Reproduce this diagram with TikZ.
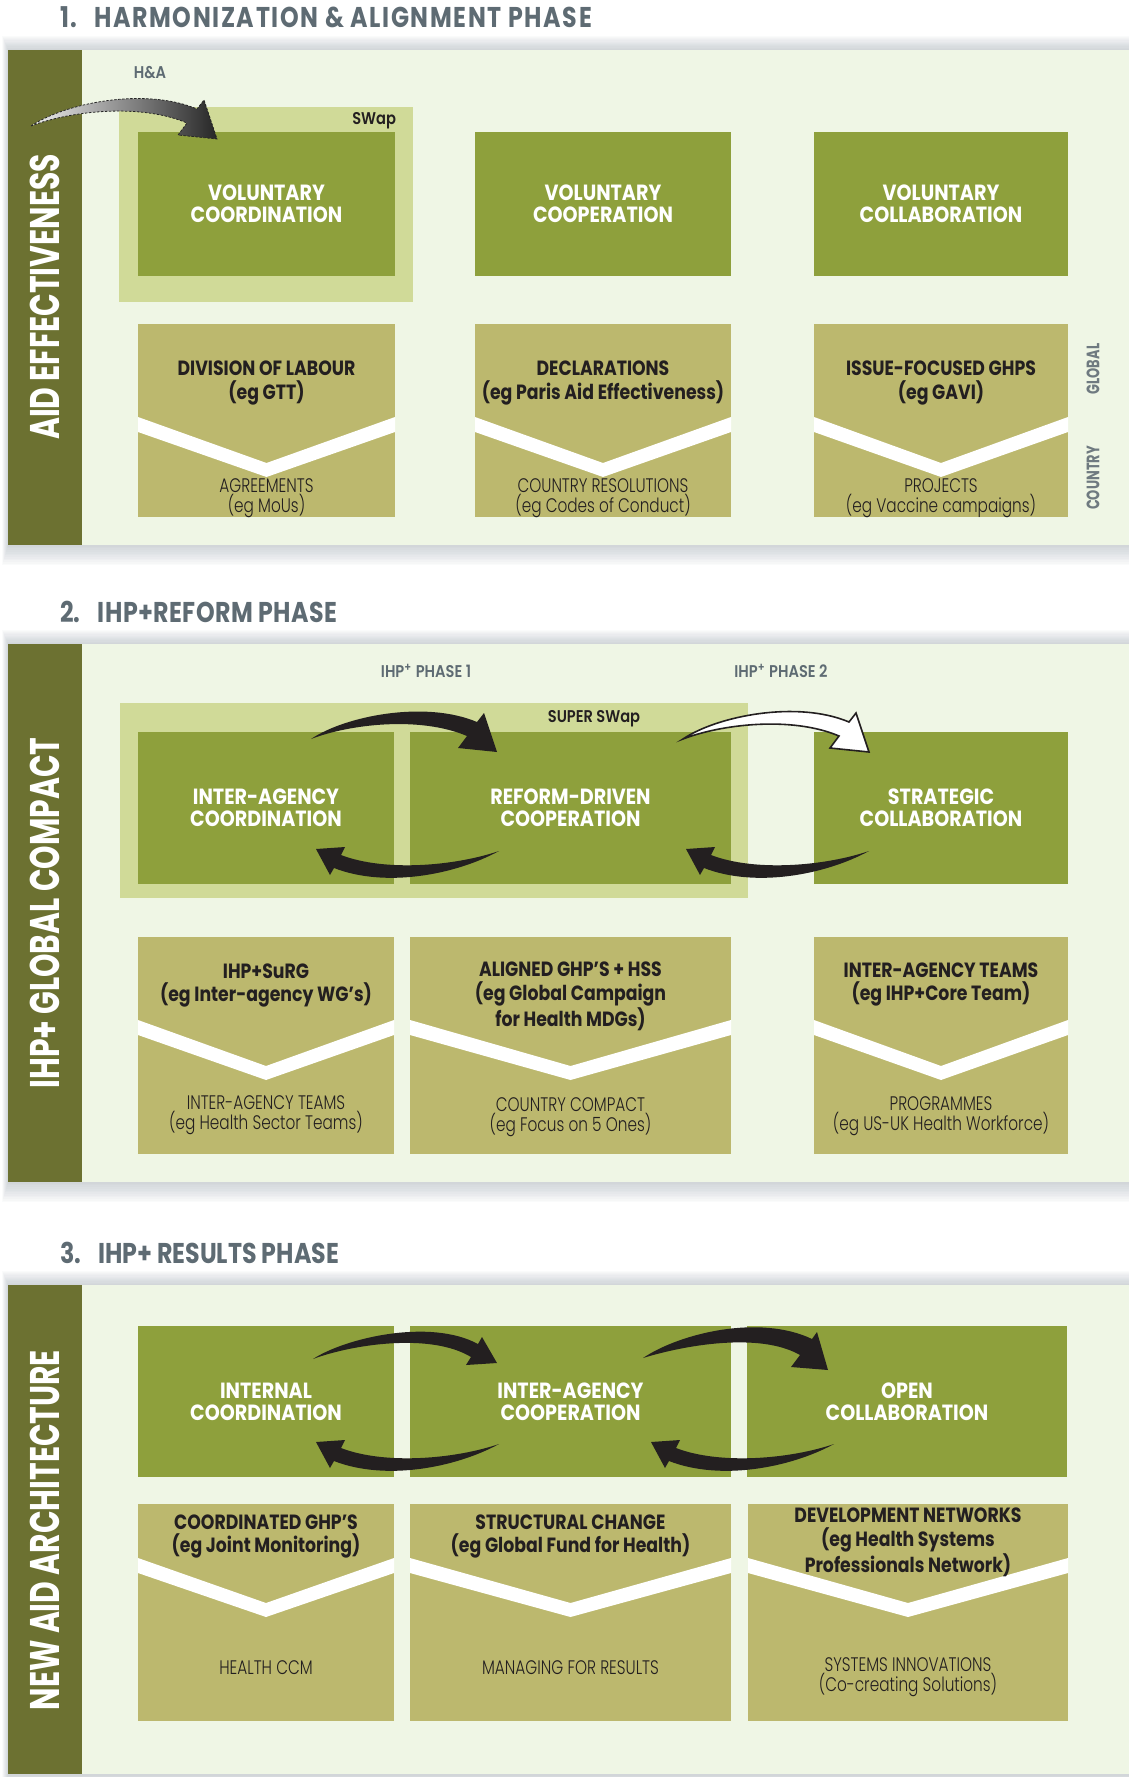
\documentclass[tikz,border=0pt]{standalone}
\usepackage{fontspec}
\setmainfont{Poppins}
\newfontfamily\headfont{Poppins Bold}[FakeStretch=0.83]
\newfontfamily\bandfont{Poppins Bold}[FakeStretch=0.72]
\newfontfamily\labelfont{Poppins Bold}[FakeStretch=0.87]
\newfontfamily\tagfont{Poppins SemiBold}[FakeStretch=0.86]
\newfontfamily\tanboldfont{Poppins Bold}[FakeStretch=0.84]
\newfontfamily\tanlightfont{Poppins Light}[FakeStretch=0.78]
\usetikzlibrary{calc,fit}

\definecolor{panelbg}{HTML}{EFF6E5}
\definecolor{bandc}{HTML}{6C7131}
\definecolor{boxg}{HTML}{8EA03C}
\definecolor{swapc}{HTML}{D0DA98}
\definecolor{tanc}{HTML}{BCB86E}
\definecolor{headc}{HTML}{5E6B73}
\definecolor{sidec}{HTML}{6F7A80}
\definecolor{inkc}{HTML}{231F20}
\definecolor{shadowc}{HTML}{7F8C99}

\tikzset{
  every node/.style={inner sep=0pt, outer sep=0pt},
  greenbox/.style={fill=boxg, draw=none, inner sep=0pt},
  tanbox/.style={fill=tanc, draw=none, inner sep=0pt},
  swapzone/.style={fill=swapc, draw=none, inner sep=0pt},
  heading/.style={anchor=west, text=headc, font=\headfont\fontsize{14.3}{16}\selectfont},
  bandtext/.style={rotate=90, text=white, font=\bandfont\fontsize{20.7}{22}\selectfont},
  boxtext/.style={text=white, align=center, font=\labelfont\fontsize{11}{11}\selectfont},
  globaltext/.style={text=inkc, align=center, font=\tanboldfont\fontsize{10.3}{11.75}\selectfont},
  countrytext/.style={text=inkc, align=center, font=\tanlightfont\fontsize{9.8}{9.9}\selectfont},
  smalltag/.style={text=headc, font=\tagfont\fontsize{8.5}{9}\selectfont},
  darktag/.style={text=inkc, font=\tagfont\fontsize{8.5}{9}\selectfont},
  sidetag/.style={rotate=90, text=sidec, font=\bandfont\fontsize{9}{9}\selectfont},
  toparrow/.pic={\path[pic actions] (0,0) .. controls (34,-23) and (114,-39) .. (166,-17)
     -- (173,-26) -- (186,13) -- (147,9) -- (156,-3) .. controls (109,-23) and (39,-15) .. (0,0) -- cycle;},
  toparrowflat/.pic={\path[pic actions] (0,0) .. controls (32,-21) and (117,-41) .. (165,-15)
     -- (169,-22) -- (184,4) -- (153,6) -- (158,-2) .. controls (117,-27) and (37,-14) .. (0,0) -- cycle;},
  toparrowbig/.pic={\path[pic actions] (0,0) .. controls (37,-25) and (117,-44) .. (169,-19)
     -- (174,-26) -- (185,12) -- (148,9) -- (157,-3) .. controls (117,-26) and (42,-13) .. (0,0) -- cycle;},
  botarrow/.pic={\path[pic actions] (0,0) .. controls (-44,24) and (-114,37) .. (-165,17)
     -- (-169,24) -- (-183,-2) -- (-154,-4) -- (-158,4) .. controls (-114,21) and (-44,15) .. (0,0) -- cycle;},
}

% soft shadow around a panel spanning rows #1..#2
\newcommand\panelshadow[2]{%
  \foreach \i in {1,...,12}{\fill[shadowc,opacity=0.03] (8-\i*0.5,#1-\i*1.2) rectangle (1135,#2+\i*1.7);}}
% box helpers
\newcommand\gbox[3]{\node[greenbox, fit={#2 #3}] (#1) {};}
\newcommand\tbox[3]{\node[tanbox, fit={#2 #3}] (#1) {};}
% white V band across a tan box: #2 offset of the band from the top, #3 depth of the V
\newcommand\chevron[3]{%
  \fill[white] ($(#1.north west)+(0,#2)$) -- ($(#1.north)+(0,#2+#3)$) -- ($(#1.north east)+(0,#2)$)
    -- ($(#1.north east)+(0,#2+15)$) -- ($(#1.north)+(0,#2+#3+14)$) -- ($(#1.north west)+(0,#2+15)$) -- cycle;}

\begin{document}
\begin{tikzpicture}[x=0.5pt,y=-0.5pt]
\useasboundingbox (0,0) rectangle (1129,1777);
\fill[white] (0,0) rectangle (1129,1777);

% ---------- headings ----------
\node[heading] (t1) at (60,17) {\addfontfeature{LetterSpace=5.6}1.\hspace{0.6em}HARMONIZATION \& ALIGNMENT PHASE};
\node[heading] (t2) at (60,612) {\addfontfeature{LetterSpace=1.5}2.\hspace{0.6em}IHP+REFORM PHASE};
\node[heading] (t3) at (60,1253) {3.\hspace{0.6em}IHP+ RESULTS PHASE};

% ---------- panel 1 ----------
\panelshadow{50}{545}
\fill[panelbg] (8,50) rectangle (1129,545);
\fill[bandc] (8,50) rectangle (82,545);
\node[bandtext] (band1) at (45,297) {AID EFFECTIVENESS};

\node[swapzone, fit={(119,107) (413,302)}] (swap1) {};
\node[darktag, anchor=east] (swaptag) at (396,121) {SWap};
\node[smalltag] (hatag) at (150,73) {H\&A};

\gbox{vcoord}{(138,132)}{(395,276)}
\gbox{vcoop}{(475,132)}{(731,276)}
\gbox{vcoll}{(814,132)}{(1068,276)}
\node[boxtext] (vcoordt) at (vcoord) {VOLUNTARY\\COORDINATION};
\node[boxtext] (vcoopt) at (vcoop) {VOLUNTARY\\COOPERATION};
\node[boxtext] (vcollt) at (vcoll) {VOLUNTARY\\COLLABORATION};

\tbox{dol}{(138,324)}{(395,517)}
\tbox{decl}{(475,324)}{(731,517)}
\tbox{ghps}{(814,324)}{(1068,517)}
\chevron{dol}{93}{46}
\chevron{decl}{93}{46}
\chevron{ghps}{93}{46}
\node[globaltext] (dolg) at (266.5,383) {DIVISION OF LABOUR\\(eg GTT)};
\node[globaltext] (declg) at (603,383) {DECLARATIONS\\(eg Paris Aid Effectiveness)};
\node[globaltext] (ghpsg) at (941,383) {ISSUE-FOCUSED GHPS\\(eg GAVI)};
\node[countrytext] (dolc) at (266.5,498) {AGREEMENTS\\(eg MoUs)};
\node[countrytext] (declc) at (603,498) {COUNTRY RESOLUTIONS\\(eg Codes of Conduct)};
\node[countrytext] (ghpsc) at (941,498) {PROJECTS\\(eg Vaccine campaigns)};
\node[sidetag] (gl) at (1093,369) {GLOBAL};
\node[sidetag] (co) at (1093,478) {COUNTRY};

\coordinate (ha0) at (31,126);
\pic[left color=black!6, right color=black!85, draw=black!85, dash pattern=on 1.2pt off 0.8pt, line width=0.4pt] at (ha0) {toparrow};

% ---------- panel 2 ----------
\panelshadow{644}{1182}
\fill[panelbg] (8,644) rectangle (1129,1182);
\fill[bandc] (8,644) rectangle (82,1182);
\node[bandtext] (band2) at (45,913) {IHP+ GLOBAL COMPACT};

\node[smalltag] (ph1) at (426,671) {IHP\textsuperscript{+} PHASE 1};
\node[smalltag] (ph2) at (781,671) {IHP\textsuperscript{+} PHASE 2};
\node[swapzone, fit={(120,703) (748,898)}] (swap2) {};
\node[darktag] (superswap) at (594,719) {SUPER SWap};

\gbox{iacoord}{(138,732)}{(394,884)}
\gbox{rdcoop}{(410,732)}{(731,884)}
\gbox{stcoll}{(814,732)}{(1068,884)}
\node[boxtext] (iacoordt) at (iacoord) {INTER-AGENCY\\COORDINATION};
\node[boxtext] (rdcoopt) at (rdcoop) {REFORM-DRIVEN\\COOPERATION};
\node[boxtext] (stcollt) at (stcoll) {STRATEGIC\\COLLABORATION};

\tbox{surg}{(138,937)}{(394,1154)}
\tbox{aligned}{(410,937)}{(731,1154)}
\tbox{iateams}{(814,937)}{(1068,1154)}
\chevron{surg}{83}{46}
\chevron{aligned}{83}{46}
\chevron{iateams}{83}{46}
\node[globaltext] (surgg) at (266,985.5) {IHP+SuRG\\(eg Inter-agency WG’s)};
\node[globaltext] (alignedg) at (570.5,996.5) {ALIGNED GHP’S + HSS\\(eg Global Campaign\\for Health MDGs)};
\node[globaltext] (iateamsg) at (941,984.5) {INTER-AGENCY TEAMS\\(eg IHP+Core Team)};
\node[countrytext] (surgc) at (266,1115) {INTER-AGENCY TEAMS\\(eg Health Sector Teams)};
\node[countrytext] (alignedc) at (570.5,1117.5) {COUNTRY COMPACT\\(eg Focus on 5 Ones)};
\node[countrytext] (iateamsc) at (941,1116) {PROGRAMMES\\(eg US-UK Health Workforce)};

\coordinate (r1) at (311,739);
\coordinate (r2) at (499,851);
\coordinate (r3) at (683,739);
\coordinate (r4) at (869,851);
\pic[fill=inkc] at (r1) {toparrow};
\pic[fill=inkc] at (r2) {botarrow};
\pic[fill=white, draw=inkc, line width=0.8pt] at (r3) {toparrow};
\pic[fill=inkc] at (r4) {botarrow};

% ---------- panel 3 ----------
\panelshadow{1285}{1774}
\fill[panelbg] (8,1285) rectangle (1129,1774);
\fill[bandc] (8,1285) rectangle (82,1774);
\node[bandtext] (band3) at (45,1530) {NEW AID ARCHITECTURE};

\gbox{incoord}{(138,1326)}{(394,1477)}
\gbox{iacoop}{(410,1326)}{(731,1477)}
\gbox{opcoll}{(747,1326)}{(1067,1477)}
\node[boxtext] (incoordt) at (incoord) {INTERNAL\\COORDINATION};
\node[boxtext] (iacoopt) at (iacoop) {INTER-AGENCY\\COOPERATION};
\node[boxtext] (opcollt) at (opcoll) {OPEN\\COLLABORATION};

\tbox{cghp}{(138,1504)}{(394,1721)}
\tbox{struct}{(410,1504)}{(731,1721)}
\tbox{devnet}{(748,1504)}{(1068,1721)}
\chevron{cghp}{54}{45}
\chevron{struct}{54}{45}
\chevron{devnet}{54}{45}
\node[globaltext] (cghpg) at (266,1536.5) {COORDINATED GHP’S\\(eg Joint Monitoring)};
\node[globaltext] (structg) at (570.5,1536.5) {STRUCTURAL CHANGE\\(eg Global Fund for Health)};
\node[globaltext] (devnetg) at (908,1542.5) {DEVELOPMENT NETWORKS\\(eg Health Systems\\Professionals Network)};
\node[countrytext] (cghpc) at (266,1668) {HEALTH CCM};
\node[countrytext] (structc) at (570.5,1668) {MANAGING FOR RESULTS};
\node[countrytext] (devnetc) at (908,1677.5) {SYSTEMS INNOVATIONS\\(Co-creating Solutions)};

\coordinate (n1) at (313,1359);
\coordinate (n2) at (499,1444);
\coordinate (n3) at (643,1358);
\coordinate (n4) at (834,1444);
\pic[fill=inkc] at (n1) {toparrowflat};
\pic[fill=inkc] at (n2) {botarrow};
\pic[fill=inkc] at (n3) {toparrowbig};
\pic[fill=inkc] at (n4) {botarrow};
\end{tikzpicture}
\end{document}
